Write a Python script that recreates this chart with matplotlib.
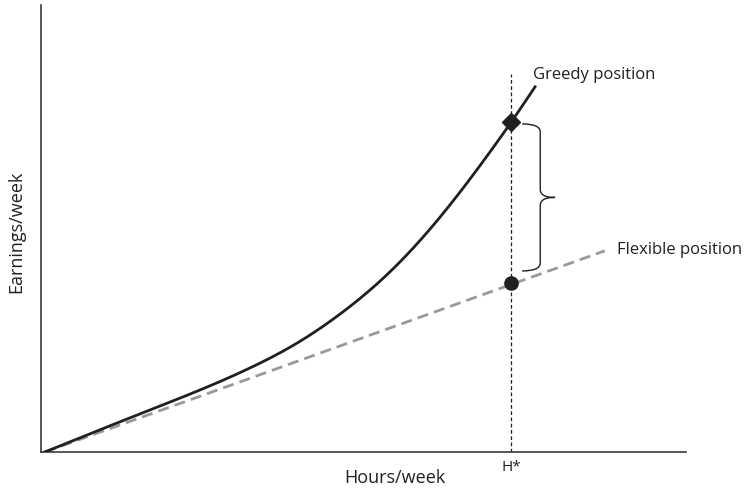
import matplotlib
matplotlib.use("Agg")
import matplotlib.pyplot as plt
from matplotlib.path import Path
from matplotlib.patches import PathPatch
import numpy as np

plt.rcParams['font.family'] = ['Open Sans', 'DejaVu Sans']

# Data (axes scaled 0-100)
greedy_x = [0.6, 15.3, 24.7, 32.4, 40.2, 46.4, 54.1, 61.9, 69.6, 72.9, 76.6]
greedy_y = [0.0, 8.5, 13.9, 18.8, 24.8, 30.9, 40.3, 52.6, 67.1, 73.8, 81.7]
flex_x = [0.6, 87.4]
flex_y = [0.0, 45.0]
h_star = 72.9
greedy_at_h = 73.8
flex_at_h = 37.8
x_label = "Hours/week"
y_label = "Earnings/week"
greedy_label = "Greedy position"
flex_label = "Flexible position"
h_label = "H*"

text_color = "#231f20"


def natural_spline(x, y, xs):
    x = np.asarray(x, float)
    y = np.asarray(y, float)
    n = len(x)
    h = np.diff(x)
    A = np.zeros((n, n))
    b = np.zeros(n)
    A[0, 0] = 1
    A[-1, -1] = 1
    for i in range(1, n - 1):
        A[i, i - 1] = h[i - 1]
        A[i, i] = 2 * (h[i - 1] + h[i])
        A[i, i + 1] = h[i]
        b[i] = 3 * ((y[i + 1] - y[i]) / h[i] - (y[i] - y[i - 1]) / h[i - 1])
    c = np.linalg.solve(A, b)
    bb = (y[1:] - y[:-1]) / h - h * (2 * c[:-1] + c[1:]) / 3
    d = (c[1:] - c[:-1]) / (3 * h)
    idx = np.clip(np.searchsorted(x, xs) - 1, 0, n - 2)
    t = xs - x[idx]
    return y[idx] + bb[idx] * t + c[idx] * t ** 2 + d[idx] * t ** 3


fig = plt.figure(figsize=(7.46, 4.89), dpi=100)
ax = fig.add_axes([41/746, 1 - 453/489, 645/746, 447/489])
ax.set_xlim(0, 100)
ax.set_ylim(0, 100)

xs = np.linspace(greedy_x[0], greedy_x[-1], 400)
ys = natural_spline(greedy_x, greedy_y, xs)

ax.plot(flex_x, flex_y, color="#999999", lw=2.0, dashes=(4, 2.2), zorder=2)
ax.plot(xs, ys, color="#231f20", lw=2.0, zorder=3)

# vertical dotted line at H*
ax.plot([h_star, h_star], [0, 84.6], color="#231f20", lw=0.9, dashes=(3, 2), zorder=1)

ax.plot([h_star], [greedy_at_h], marker="D", markersize=9.5, color="#231f20", zorder=4)
ax.plot([h_star], [flex_at_h], marker="o", markersize=9.5, color="#231f20", zorder=4)

# brace
bx_tip, bx_spine, bx_mid = 74.6, 77.4, 79.7
by_top, by_bot = 73.4, 40.5
by_mid = (by_top + by_bot) / 2
r = 1.8
verts = [
    (bx_tip, by_top), (bx_spine, by_top), (bx_spine, by_top - r),
    (bx_spine, by_mid + r),
    (bx_spine, by_mid), (bx_mid - 0.6, by_mid), (bx_mid, by_mid),
    (bx_mid - 0.6, by_mid), (bx_spine, by_mid), (bx_spine, by_mid - r),
    (bx_spine, by_bot + r),
    (bx_spine, by_bot), (bx_tip, by_bot),
]
codes = [Path.MOVETO, Path.CURVE3, Path.CURVE3,
         Path.LINETO,
         Path.CURVE4, Path.CURVE4, Path.CURVE4,
         Path.CURVE4, Path.CURVE4, Path.CURVE4,
         Path.LINETO,
         Path.CURVE3, Path.CURVE3]
ax.add_patch(PathPatch(Path(verts, codes), fill=False, lw=1.0, edgecolor="#231f20"))

for s in ["top", "right"]:
    ax.spines[s].set_visible(False)
for s in ["left", "bottom"]:
    ax.spines[s].set_linewidth(1.2)
    ax.spines[s].set_color("#3a3a3a")
ax.set_xticks([])
ax.set_yticks([])

fs = 12
ax.text((533 - 41) / 6.45, (453 - 75) / 4.47, greedy_label, fontsize=fs,
        color=text_color, ha="left", va="center")
ax.text((617 - 41) / 6.45, (453 - 250) / 4.47, flex_label, fontsize=fs,
        color=text_color, ha="left", va="center", clip_on=False)
ax.text(h_star, -3.2, h_label, fontsize=11, color=text_color, ha="center", va="center")
fig.text(395 / 746, 1 - 478 / 489, x_label, fontsize=13, color=text_color,
         ha="center", va="center")
fig.text(16 / 746, 1 - 232 / 489, y_label, fontsize=13, color=text_color,
         rotation=90, ha="center", va="center")

fig.savefig("out.png", dpi=100)
